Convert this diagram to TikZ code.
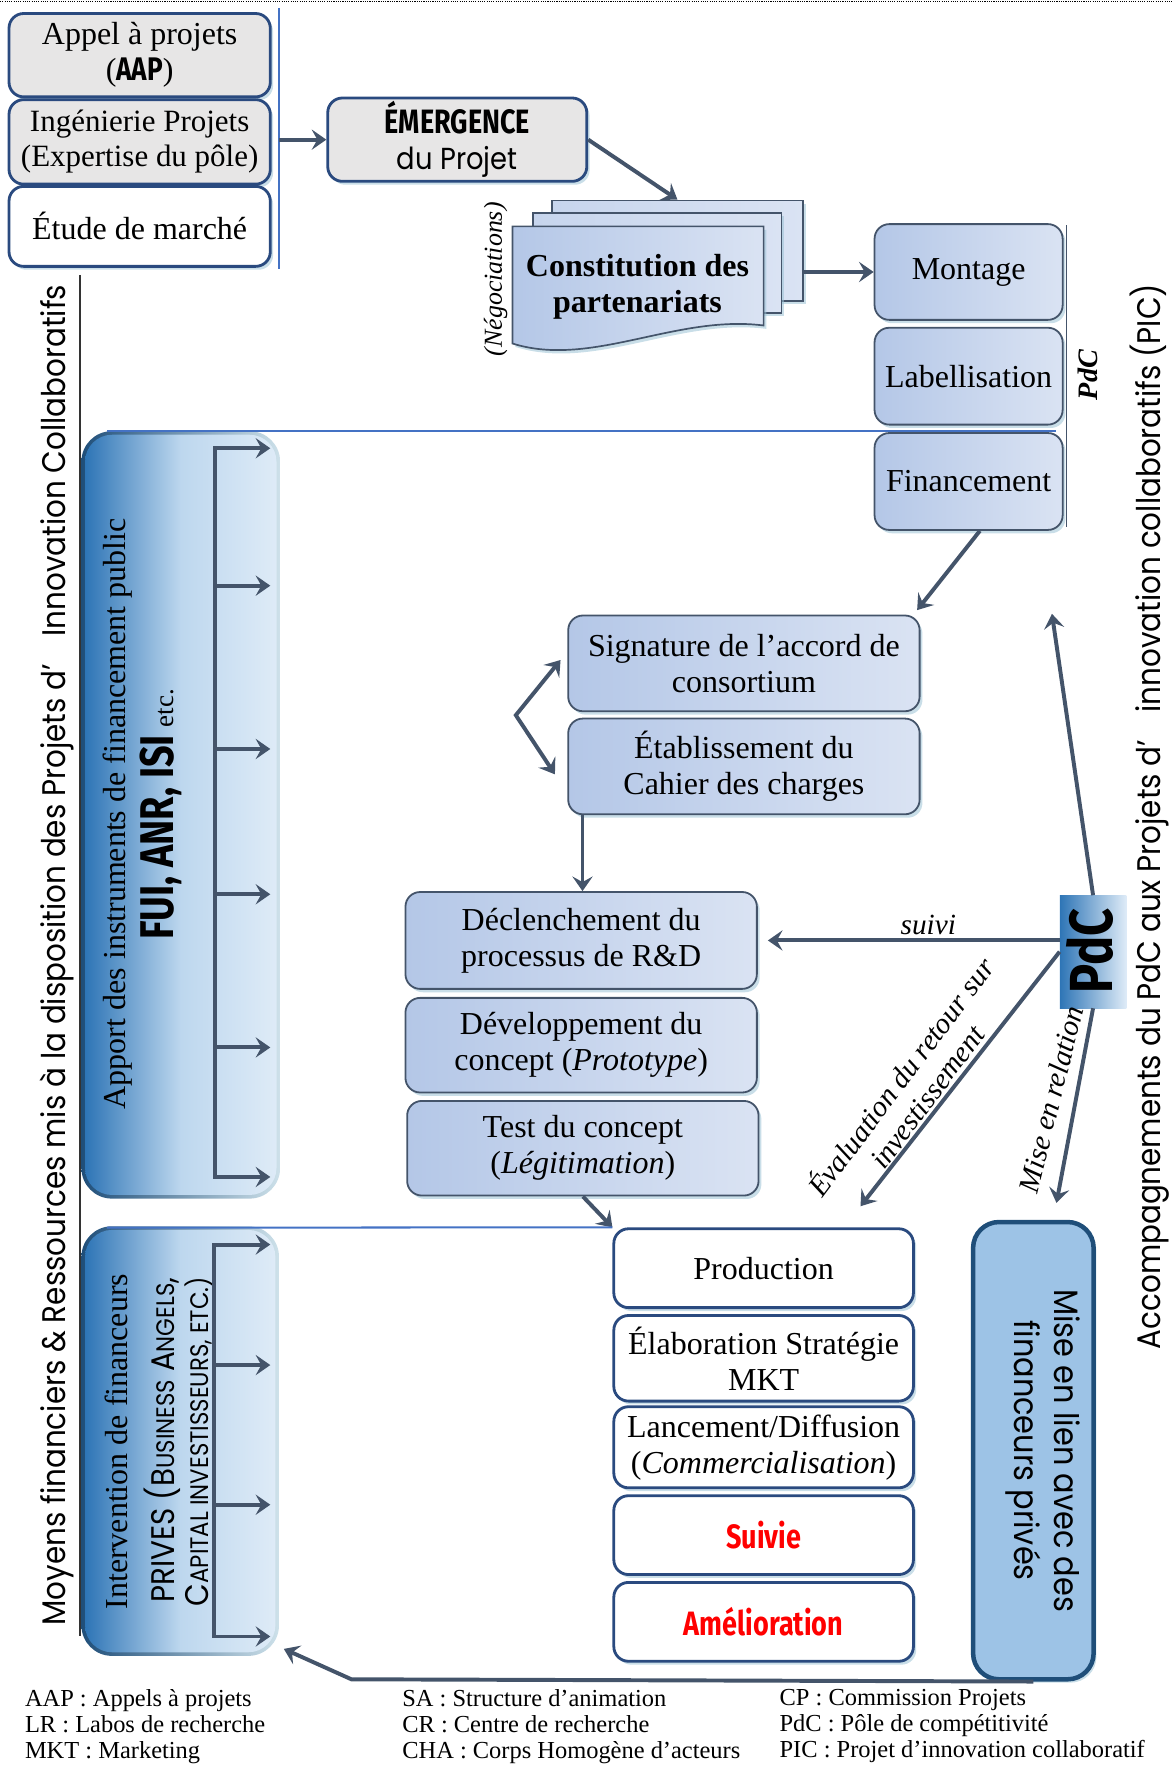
\documentclass[tikz,border=0pt]{standalone}
\usepackage{fontspec}
\setmainfont{Liberation Serif}
\newfontfamily\futura{Poppins}[FakeStretch=0.9]
\newfontfamily\condsans{Fira Sans}[FakeStretch=0.8]
\usepackage{tikz}
\usetikzlibrary{arrows.meta}
\usetikzlibrary{shadows}
\usetikzlibrary{backgrounds}
\usepackage{xcolor}

\definecolor{slate}{HTML}{44546A}
\definecolor{navyline}{HTML}{2A4A7F}
\definecolor{navydeep}{HTML}{1F4E79}
\definecolor{greyfill}{HTML}{E7E6E6}
\definecolor{pblueL}{HTML}{B4C7E7}
\definecolor{pblueR}{HTML}{DAE3F3}
\definecolor{linkblue}{HTML}{4472C4}
\definecolor{deepblue}{HTML}{2E75B6}
\definecolor{midblue}{HTML}{BDD7EE}
\definecolor{paleblue}{HTML}{DEEBF7}
\definecolor{skyfill}{HTML}{9DC3E6}
\definecolor{glow}{HTML}{9CC3D5}

\newcommand{\boxfont}{\fontsize{28.4}{32}\selectfont}
\newcommand{\heavy}{\condsans\bfseries}
\newcommand{\smallsc}{\fontsize{22.5}{24}\selectfont}
\newcommand{\sidefont}{\futura\fontsize{29}{32}\selectfont}
\newcommand{\notefont}{\itshape\fontsize{26}{29}\selectfont}

\tikzset{
    softshadow/.style = {drop shadow = {shadow xshift = 2.5pt, shadow yshift = -3pt, fill = glow, opacity = 0.55}},
    greybox/.style = {draw = navyline, line width = 2.5pt, fill = greyfill, rounded corners = 13pt, inner sep = 2pt, align = center, font = \boxfont, softshadow},
    whitebox/.style = {greybox, fill = white},
    bluebox/.style = {draw = slate, line width = 1.6pt, left color = pblueL, right color = pblueR, rounded corners = 13pt, inner sep = 2pt, align = center, font = \boxfont, softshadow},
    docbox/.style = {draw = slate, line width = 1.5pt, left color = pblueL!75!white, right color = pblueR, softshadow},
    bigbox/.style = {left color = deepblue, right color = paleblue, middle color = midblue, rounded corners = 24pt},
    flow/.style = {->, draw = slate, line width = 3.5pt},
    bar/.style = {line width = 1.8pt}
}

\begin{document}
\begin{tikzpicture}[x = 1pt, y = -1pt, font = \boxfont, > = {Stealth[length = 13pt, width = 18pt, inset = 5pt]}]
    \useasboundingbox (0,0) rectangle (1041,1568);
    \draw[densely dotted, line width = 1pt] (0,1) -- (1041,1);

    % sources of the project
    \node[greybox, minimum width = 232pt, minimum height = 74pt] (aap) at (124,49) {Appel à projets\\({\heavy\fontsize{29}{32}\selectfont AAP})};
    \node[greybox, minimum width = 232pt, minimum height = 75pt, font = \fontsize{27.5}{31}\selectfont] (inge) at (124,126) {Ingénierie Projets\\(Expertise du pôle)};
    \node[whitebox, minimum width = 232pt, minimum height = 71pt] (etude) at (124,201) {Étude de marché};
    \draw[bar, linkblue] (248,7) coordinate (bartop) -- (248,239) coordinate (barbot);

    \node[greybox, minimum width = 230pt, minimum height = 74pt] (emergence) at (406,124) {{\heavy\fontsize{30}{33}\selectfont ÉMERGENCE}\\{\futura\fontsize{27}{33}\selectfont du Projet}};
    \draw[flow] (bartop |- emergence.west) -- (emergence.west);

    % partnership documents
    \node[docbox, minimum width = 223pt, minimum height = 89pt] (docC) at (601.5,222.5) {};
    \node[docbox, minimum width = 221pt, minimum height = 89pt] (docB) at (583.5,233.5) {};
    \shadedraw[docbox, left color = pblueL] (455,201) -- (678,201) -- (678,289) .. controls (600,279) and (525,327) .. (455,305) -- cycle;
    \node[font = \bfseries\boxfont, align = center] (partner) at (566,255) {Constitution des\\partenariats};
    \node[rotate = 90, font = \itshape\fontsize{23}{26}\selectfont] (nego) at (440,248) {(Négociations)};
    \draw[flow] (emergence.east) -- (docC.north);

    % PdC steps
    \node[bluebox, minimum width = 167pt, minimum height = 85pt] (montage) at (860,241.5) {Montage};
    \node[bluebox, minimum width = 167pt, minimum height = 86pt] (labelbox) at (860,334) {Labellisation};
    \node[bluebox, minimum width = 167pt, minimum height = 86pt] (finance) at (860,427.5) {Financement};
    \draw[flow] (docC.east |- montage.west) -- (montage.west);
    \draw[slate, line width = 1.5pt] (947,200) -- (947,468);
    \node[rotate = 90, font = \bfseries\itshape\fontsize{25}{28}\selectfont] (pdcmark) at (966,333) {PdC};

    % public funding
    \node[bigbox, minimum width = 170pt, minimum height = 675pt] (public) at (160.5,723.5) {};
    \node[rotate = 90] (apport) at (104.5,722.5) {Apport des instruments de financement public};
    \node[rotate = 90] (fui) at (143,723) {{\heavy\fontsize{42}{44}\selectfont FUI, ANR, ISI} {\fontsize{24}{26}\selectfont etc.}};
    \draw[flow, <->] (240,398) -| (191,1045) -- (240,1045);
    \foreach \y in {520,665,794,930}
        \draw[flow] (191,\y) -- (240,\y);
    \draw[bar, linkblue] (95,383) -- (938,383);

    % consortium
    \node[bluebox, minimum width = 312pt, minimum height = 85pt] (sign) at (660.5,589) {Signature de l’accord de\\consortium};
    \node[bluebox, minimum width = 312pt, minimum height = 85pt] (etab) at (660.5,680.5) {Établissement du\\Cahier des charges};
    \draw[flow] ([xshift = 10pt]finance.south) -- ([xshift = -3pt, yshift = 4pt]sign.north east);
    \coordinate (hinge) at (458,635);
    \draw[flow, <->] ([xshift = -6pt, yshift = 3pt]sign.west) -- (hinge) -- ([xshift = -11pt, yshift = -7pt]etab.west);

    % R&D
    \node[bluebox, minimum width = 312pt, minimum height = 86pt] (decl) at (516,835) {Déclenchement du\\processus de R\&D};
    \node[bluebox, minimum width = 312pt, minimum height = 84pt] (dev) at (516,928) {Développement du\\concept (\textit{Prototype})};
    \node[bluebox, minimum width = 312pt, minimum height = 84pt] (test) at (517.5,1019.5) {Test du concept\\(\textit{Légitimation})};
    \coordinate (drop) at ([xshift = 13.5pt]etab.south west);
    \draw[flow] (drop) -- (drop |- decl.north);

    % PdC follow-up
    \node[left color = deepblue, right color = paleblue, minimum width = 59pt, minimum height = 100pt, inner sep = 0pt] (pdc) at (970.5,845) {};
    \node[rotate = 90, font = \heavy\fontsize{54}{54}\selectfont] (pdcword) at (968,844) {PdC};
    \draw[flow] (pdc.west |- decl.east) -- ([xshift = 9pt]decl.east) node[pos = 0.45, above, font = \notefont] (suivi) {suivi};
    \coordinate (uptip) at (934,545);
    \draw[flow] (pdc.north) -- (uptip);
    \coordinate (evaltip) at (764,1071);
    \draw[flow] (pdc.west) -- (evaltip);
    \node[rotate = 53, align = center, font = \notefont] (evaltext) at (810,964) {Évaluation du retour sur\\investissement};
    \coordinate (reltip) at (938,1068);
    \draw[flow] (pdc.south) -- (reltip);
    \node[rotate = 76, font = \notefont] (reltext) at (933,976) {Mise en relation};

    % market
    \node[whitebox, minimum width = 266pt, minimum height = 70pt] (prod) at (678,1126) {Production};
    \node[whitebox, minimum width = 266pt, minimum height = 76pt] (elab) at (678,1206) {Élaboration Stratégie\\MKT};
    \node[whitebox, minimum width = 266pt, minimum height = 72pt] (lanc) at (678,1285) {Lancement/Diffusion\\(\textit{Commercialisation})};
    \node[whitebox, minimum width = 266pt, minimum height = 70pt, text = red, font = \heavy\fontsize{30}{32}\selectfont] (suivie) at (678,1363) {Suivie};
    \node[whitebox, minimum width = 266pt, minimum height = 70pt, text = red, font = \heavy\fontsize{30}{32}\selectfont] (amel) at (678,1440) {Amélioration};
    \draw[flow] (test.south) -- (prod.north west);
    \draw[bar, linkblue] (95,1090) -- (prod.north west);

    % private funding
    \node[bigbox, minimum width = 169pt, minimum height = 375pt] (private) at (160,1279.5) {};
    \node[rotate = 90] (interv) at (103,1280) {Intervention de financeurs};
    \node[rotate = 90, font = \futura\fontsize{29}{32}\selectfont] (prives) at (144.5,1278.5) {PRIVES (B{\smallsc USINESS} A{\smallsc NGELS},};
    \node[rotate = 90, font = \futura\fontsize{29}{32}\selectfont] (capital) at (177,1280) {C{\smallsc APITAL INVESTISSEURS, ETC.)}};
    \draw[flow, <->] (240,1105) -| (190,1453) -- (240,1453);
    \foreach \y in {1212,1336}
        \draw[flow] (190,\y) -- (240,\y);

    \node[fill = skyfill, draw = navydeep, line width = 4pt, rounded corners = 23pt, minimum width = 107pt, minimum height = 406pt, softshadow] (mise) at (917.5,1288) {};
    \node[rotate = -90, align = center, font = \futura\fontsize{30}{35}\selectfont] (misetext) at (926,1288) {Mise en lien avec des\\financeurs privés};
    \coordinate (retbend) at (312,1491);
    \coordinate (rettip) at (252,1464);
    \draw[flow] (mise.south) -- (retbend) -- (rettip);

    % gradient borders of the funding boxes
    \begin{scope}[on background layer]
        \shade[left color = navydeep, right color = glow!50!white, rounded corners = 27pt] ([shift = {(-3pt,3pt)}]public.north west) rectangle ([shift = {(3pt,-3pt)}]public.south east);
        \shade[left color = navydeep, right color = glow!50!white, rounded corners = 27pt] ([shift = {(-3pt,3pt)}]private.north west) rectangle ([shift = {(3pt,-3pt)}]private.south east);
    \end{scope}

    % side titles
    \node[rotate = 90, font = \sidefont] (leftband) at (51,848) {Moyens financiers \& Ressources mis à la disposition des Projets d’\hspace{0.6em} Innovation Collaboratifs};
    \draw[black!80, line width = 1pt] (71,244) -- (71,1453);
    \node[rotate = 90, font = \sidefont] (rightband) at (1021,725) {Accompagnements du PdC aux Projets d’\hspace{0.6em} innovation collaboratifs (PIC)};

    % legend
    \node[anchor = north west, align = left, inner sep = 0pt, font = \fontsize{21.7}{23}\selectfont] (legA) at (22,1500) {AAP : Appels à projets\\LR : Labos de recherche\\MKT : Marketing};
    \node[anchor = north west, align = left, inner sep = 0pt, font = \fontsize{21.7}{23}\selectfont] (legB) at (357,1500) {SA : Structure d’animation\\CR : Centre de recherche\\CHA : Corps Homogène d’acteurs};
    \node[anchor = north west, align = left, inner sep = 0pt, font = \fontsize{21.7}{23}\selectfont] (legC) at (692,1500) {CP : Commission Projets\\PdC : Pôle de compétitivité\\PIC : Projet d’innovation collaboratif};
\end{tikzpicture}
\end{document}
